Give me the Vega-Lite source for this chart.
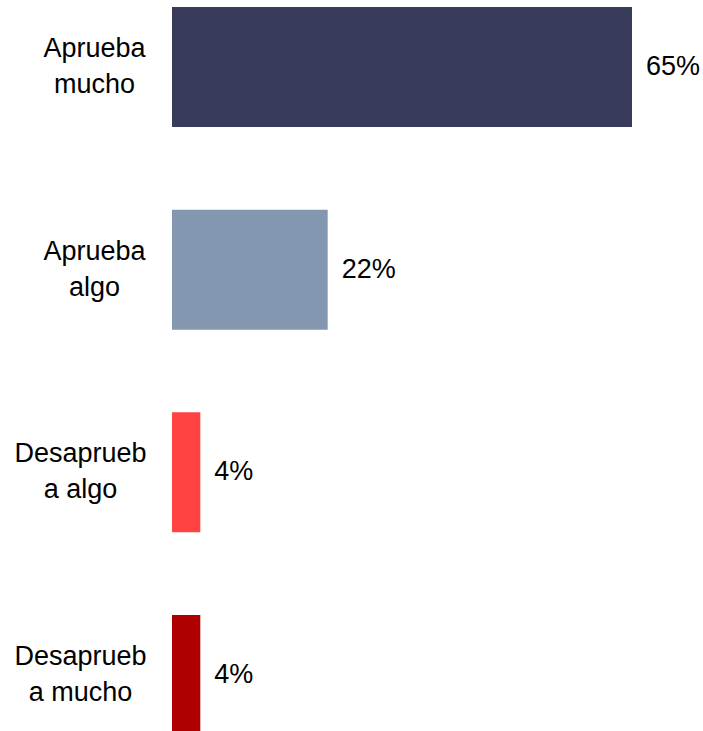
{
  "$schema": "https://vega.github.io/schema/vega-lite/v6.json",
  "autosize": {"type": "none"},
  "padding": {"left": 172, "top": 0, "right": 71, "bottom": 0},
  "width": 460,
  "height": 742,
  "background": "white",
  "data": {
    "values": [
      {"cat": "Aprueba mucho", "pct": 65, "txt": "65%", "color": "#393B5A"},
      {"cat": "Aprueba algo", "pct": 22, "txt": "22%", "color": "#8497B0"},
      {"cat": "Desaprueba algo", "pct": 4, "txt": "4%", "color": "#FF4343"},
      {"cat": "Desaprueba mucho", "pct": 4, "txt": "4%", "color": "#AE0000"}
    ]
  },
  "config": {"view": {"stroke": null}},
  "encoding": {
    "y": {
      "field": "cat",
      "type": "nominal",
      "sort": null,
      "scale": {"paddingInner": 0.408, "paddingOuter": 0.0345},
      "axis": {
        "title": null,
        "domain": false,
        "ticks": false,
        "labelExpr": "datum.value == 'Aprueba mucho' ? ['Aprueba','mucho'] : datum.value == 'Aprueba algo' ? ['Aprueba','algo'] : datum.value == 'Desaprueba algo' ? ['Desaprueb','a algo'] : ['Desaprueb','a mucho']",
        "labelFont": "Liberation Sans",
        "labelFontSize": 27,
        "labelColor": "#000000",
        "labelLineHeight": 36,
        "labelAlign": "center",
        "labelBaseline": "middle",
        "labelOffset": -18,
        "labelPadding": {"condition": {"test": "indexof(datum.value, 'Desaprueba') == 0", "value": 92}, "value": 78},
        "labelLimit": 300
      }
    },
    "x": {
      "field": "pct",
      "type": "quantitative",
      "scale": {"domain": [0, 65]},
      "axis": null
    }
  },
  "layer": [
    {
      "mark": {"type": "bar"},
      "encoding": {
        "color": {"field": "color", "type": "nominal", "scale": null, "legend": null}
      }
    },
    {
      "mark": {"type": "text", "align": "left", "baseline": "middle", "dx": 14, "font": "Liberation Sans", "fontSize": 27, "color": "#000000"},
      "encoding": {"text": {"field": "txt"}}
    }
  ]
}
